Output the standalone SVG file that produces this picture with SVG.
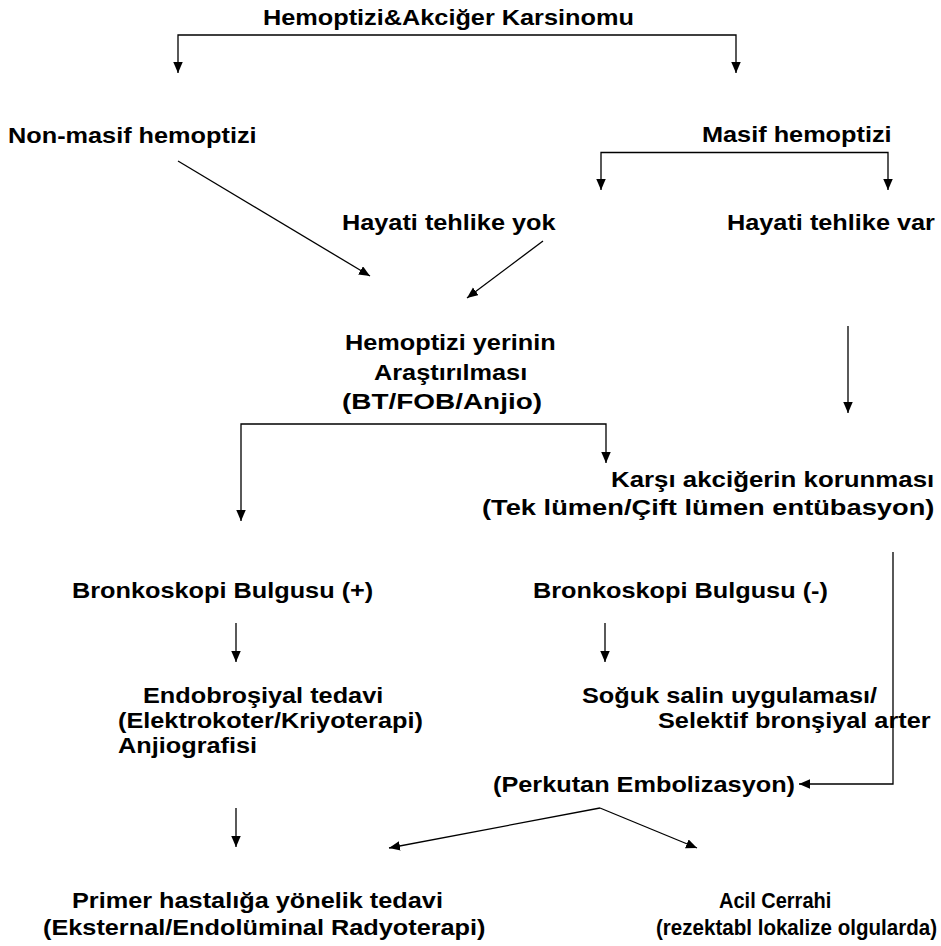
<svg xmlns="http://www.w3.org/2000/svg" width="941" height="946" viewBox="0 0 941 946">
  <style>
    text { font-family: "Liberation Sans", Arial, sans-serif; font-weight: bold; font-size: 22px; fill: #000; }
    .end { text-anchor: end; }
    .wire { fill: none; stroke: #000; stroke-width: 1.3; }
    .arr { marker-end: url(#head); }
  </style>
  <defs>
    <marker id="head" markerUnits="userSpaceOnUse" markerWidth="12" markerHeight="10" refX="11" refY="4.75" orient="auto">
      <path d="M0,0 L11,4.75 L0,9.5 Z" fill="#000"/>
    </marker>
  </defs>
  <rect width="941" height="946" fill="#fff"/>

  <!-- connectors -->
  <g id="connectors">
    <!-- root split -->
    <path class="wire arr" d="M457,35 H178 V73"/>
    <path class="wire arr" d="M457,35 H736 V73"/>
    <!-- massive haemoptysis split -->
    <path class="wire arr" d="M745,152.5 H601 V190"/>
    <path class="wire arr" d="M745,152.5 H888 V190"/>
    <!-- into localisation -->
    <path class="wire arr" d="M178,161 L370,276"/>
    <path class="wire arr" d="M543,241 L467,298"/>
    <path class="wire arr" d="M848,326 V413"/>
    <!-- localisation split -->
    <path class="wire arr" d="M424,424 H241 V521"/>
    <path class="wire arr" d="M424,424 H606 V463"/>
    <path class="wire arr" d="M236,623 V662"/>
    <path class="wire arr" d="M605,623 V662"/>
    <!-- protection to embolisation -->
    <path class="wire arr" d="M893,552 V784 H799"/>
    <!-- final outcomes -->
    <path class="wire arr" d="M236,808 V847"/>
    <path class="wire arr" d="M600,808 L389,848"/>
    <path class="wire arr" d="M600,808 L697,848"/>
  </g>

  <!-- nodes -->
  <g id="n-root"><text transform="translate(263 0) scale(1.15 1)" y="25">Hemoptizi&amp;Akciğer Karsinomu</text></g>
  <g id="n-nonmasif"><text transform="translate(8 0) scale(1.15 1)" y="143">Non-masif hemoptizi</text></g>
  <g id="n-masif"><text transform="translate(702 0) scale(1.15 1)" y="142">Masif hemoptizi</text></g>
  <g id="n-yok"><text transform="translate(342 0) scale(1.15 1)" y="230">Hayati tehlike yok</text></g>
  <g id="n-var"><text transform="translate(727 0) scale(1.15 1)" y="230">Hayati tehlike var</text></g>
  <g id="n-arastirma">
    <text transform="translate(345 0) scale(1.15 1)" y="350">Hemoptizi yerinin</text>
    <text transform="translate(374 0) scale(1.15 1)" y="380">Araştırılması</text>
    <text transform="translate(342 0) scale(1.27 1)" y="409">(BT/FOB/Anjio)</text>
  </g>
  <g id="n-koruma">
    <text transform="translate(611 0) scale(1.175 1)" y="487">Karşı akciğerin korunması</text>
    <text transform="translate(482 0) scale(1.24 1)" y="515">(Tek lümen/Çift lümen entübasyon)</text>
  </g>
  <g id="n-bronk-pos"><text transform="translate(72 0) scale(1.15 1)" y="598">Bronkoskopi Bulgusu (+)</text></g>
  <g id="n-bronk-neg"><text transform="translate(533 0) scale(1.15 1)" y="598">Bronkoskopi Bulgusu (-)</text></g>
  <g id="n-endobronsiyal">
    <text transform="translate(143 0) scale(1.15 1)" y="703">Endobroşiyal tedavi</text>
    <text transform="translate(118 0) scale(1.15 1)" y="728">(Elektrokoter/Kriyoterapi)</text>
    <text transform="translate(118 0) scale(1.15 1)" y="753">Anjiografisi</text>
  </g>
  <g id="n-salin">
    <text transform="translate(582 0) scale(1.15 1)" y="703">Soğuk salin uygulaması/</text>
    <text transform="translate(658 0) scale(1.15 1)" y="728">Selektif bronşiyal arter</text>
  </g>
  <g id="n-embolizasyon"><text class="end" transform="translate(795 0) scale(1.15 1)" y="792">(Perkutan Embolizasyon)</text></g>
  <g id="n-primer">
    <text transform="translate(72 0) scale(1.15 1)" y="908">Primer hastalığa yönelik tedavi</text>
    <text transform="translate(43 0) scale(1.15 1)" y="935">(Eksternal/Endolüminal Radyoterapi)</text>
  </g>
  <g id="n-cerrahi">
    <text transform="translate(719 0) scale(0.91 1)" y="908">Acil Cerrahi</text>
    <text transform="translate(656 0) scale(0.935 1)" y="935">(rezektabl lokalize olgularda)</text>
  </g>
</svg>
